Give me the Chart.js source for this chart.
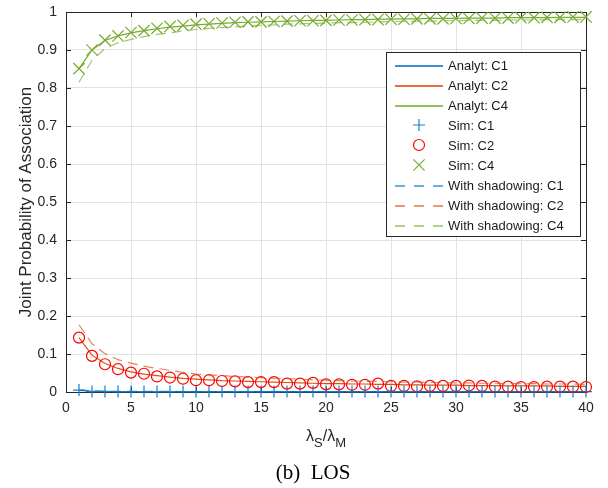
<!DOCTYPE html>
<html>
<head>
<meta charset="utf-8">
<script src="https://cdn.jsdelivr.net/npm/chart.js@4/dist/chart.umd.min.js"></script>
<style>
  html, body { margin: 0; padding: 0; background: #fff; }
  #wrap { width: 608px; height: 488px; }
</style>
</head>
<body>
<div id="wrap"><canvas id="chartCanvas" width="608" height="488"></canvas></div>
<script>
// lambda_S / lambda_M ratio
const ratios = [1,2,3,4,5,6,7,8,9,10,11,12,13,14,15,16,17,18,19,20,
                21,22,23,24,25,26,27,28,29,30,31,32,33,34,35,36,37,38,39,40];

const analytC1 = [0.004,0.002,0.002,0.001,0.001,0.001,0.001,0.001,0.001,0.001,
                  0.001,0.001,0.001,0.001,0.001,0.001,0.001,0.001,0.001,0.001,
                  0.001,0.001,0.001,0.001,0.001,0.001,0.001,0.001,0.001,0.001,
                  0.001,0.001,0.001,0.001,0.001,0.001,0.001,0.001,0.001,0.001];
const analytC2 = [0.143,0.097,0.075,0.062,0.053,0.047,0.043,0.039,0.036,0.034,
                  0.032,0.030,0.029,0.028,0.027,0.026,0.025,0.024,0.023,0.022,
                  0.022,0.021,0.021,0.020,0.020,0.019,0.019,0.018,0.018,0.018,
                  0.017,0.017,0.017,0.016,0.016,0.016,0.016,0.015,0.015,0.015];
const analytC4 = [0.851,0.900,0.925,0.937,0.945,0.951,0.956,0.960,0.963,0.966,
                  0.968,0.970,0.972,0.973,0.974,0.975,0.976,0.977,0.978,0.978,
                  0.979,0.980,0.980,0.981,0.981,0.982,0.982,0.983,0.983,0.983,
                  0.984,0.984,0.984,0.985,0.985,0.985,0.985,0.986,0.986,0.986];

const simC1 = [0.005,0.001,0.001,0.001,0.001,0.001,0.001,0.001,0.001,0.001,
               0.001,0.001,0.001,0.001,0.001,0.001,0.001,0.001,0.001,0.001,
               0.001,0.001,0.001,0.001,0.001,0.001,0.001,0.001,0.001,0.001,
               0.001,0.001,0.001,0.001,0.001,0.001,0.001,0.001,0.001,0.001];
const simC2 = [0.143,0.095,0.073,0.060,0.051,0.048,0.041,0.038,0.035,0.031,
               0.031,0.029,0.028,0.026,0.026,0.026,0.022,0.022,0.024,0.020,
               0.020,0.019,0.019,0.022,0.016,0.016,0.015,0.016,0.016,0.016,
               0.017,0.016,0.014,0.014,0.013,0.013,0.014,0.014,0.014,0.013];
const simC4 = [0.851,0.900,0.926,0.937,0.946,0.951,0.957,0.962,0.965,0.968,
               0.969,0.971,0.973,0.974,0.974,0.975,0.976,0.977,0.977,0.978,
               0.979,0.979,0.980,0.980,0.981,0.981,0.982,0.982,0.982,0.983,
               0.983,0.984,0.984,0.984,0.985,0.985,0.986,0.986,0.987,0.987];

const shadC1 = [0.005,0.003,0.002,0.002,0.002,0.002,0.002,0.002,0.001,0.001,
                0.001,0.001,0.001,0.001,0.001,0.001,0.001,0.001,0.001,0.001,
                0.001,0.001,0.001,0.001,0.001,0.001,0.001,0.001,0.001,0.001,
                0.001,0.001,0.001,0.001,0.001,0.001,0.001,0.001,0.001,0.001];
const shadC2 = [0.177,0.127,0.101,0.085,0.076,0.068,0.062,0.057,0.052,0.047,
                0.045,0.043,0.041,0.039,0.038,0.036,0.035,0.034,0.032,0.031,
                0.030,0.029,0.028,0.028,0.027,0.026,0.026,0.025,0.025,0.024,
                0.024,0.023,0.023,0.022,0.022,0.022,0.021,0.021,0.021,0.020];
const shadC4 = [0.815,0.873,0.904,0.919,0.928,0.935,0.941,0.945,0.950,0.954,
                0.957,0.959,0.961,0.963,0.965,0.966,0.968,0.969,0.970,0.971,
                0.972,0.972,0.973,0.974,0.975,0.975,0.976,0.976,0.977,0.977,
                0.978,0.978,0.978,0.979,0.979,0.979,0.980,0.980,0.980,0.981];

const xTicks = [0,5,10,15,20,25,30,35,40];
const yTicks = [0,0.1,0.2,0.3,0.4,0.5,0.6,0.7,0.8,0.9,1];

const seriesLabels = ["Analyt: C1","Analyt: C2","Analyt: C4","Sim: C1","Sim: C2","Sim: C4",
                      "With shadowing: C1","With shadowing: C2","With shadowing: C4"];

const FONT = "'Liberation Sans', Arial, Helvetica, sans-serif";
const pts = arr => arr.map((v, i) => ({ x: ratios[i], y: v }));

// legend swatches, filled in as the datasets are built
const legendSpec = [];

function lineSet(label, data, color, dash, swatch) {
  legendSpec.push({ label, line: true, color: swatch, dashed: !!dash });
  return {
    label, data: pts(data), borderColor: color, backgroundColor: color,
    borderWidth: 1.2, borderDash: dash || [], pointRadius: 0, tension: 0,
    showLine: true, clip: false
  };
}
function markSet(label, data, color, style, r) {
  legendSpec.push({ label, line: false, color, style, r });
  return {
    label, data: pts(data), borderColor: color, backgroundColor: "rgba(0,0,0,0)",
    showLine: false, pointStyle: style, pointRadius: r, pointBorderWidth: 1.2,
    pointBorderColor: color, pointBackgroundColor: "rgba(0,0,0,0)", clip: false
  };
}

const datasets = [
  lineSet(seriesLabels[0], analytC1, "#0072BD", null, "#3d90d3"),
  lineSet(seriesLabels[1], analytC2, "#D95319", null, "#e4703d"),
  lineSet(seriesLabels[2], analytC4, "#77AC30", null, "#93c25a"),
  markSet(seriesLabels[3], simC1, "#1a7fce", "cross", 6),
  markSet(seriesLabels[4], simC2, "#FF0000", "circle", 5.5),
  markSet(seriesLabels[5], simC4, "#77AC30", "crossRot", 8),
  lineSet(seriesLabels[6], shadC1, "rgba(0,114,189,0.7)", [10, 6], "#6aaee0"),
  lineSet(seriesLabels[7], shadC2, "rgba(217,83,25,0.7)", [10, 6], "#eb9a78"),
  lineSet(seriesLabels[8], shadC4, "rgba(119,172,48,0.7)", [10, 6], "#aed28a")
];
// later series painted on top, as in the original figure
datasets.forEach((d, i) => { d.order = datasets.length - i; });

// axes box with inward ticks, MATLAB style
const framePlugin = {
  id: "frame",
  beforeDatasetsDraw(chart) {
    const { ctx, chartArea: a, scales } = chart;
    ctx.save();
    ctx.strokeStyle = "#262626";
    ctx.lineWidth = 1;
    ctx.beginPath();
    ctx.rect(Math.round(a.left) + 0.5, Math.round(a.top) + 0.5,
             Math.round(a.right - a.left), Math.round(a.bottom - a.top));
    xTicks.forEach(v => {
      const x = Math.round(scales.x.getPixelForValue(v)) + 0.5;
      ctx.moveTo(x, a.bottom); ctx.lineTo(x, a.bottom - 5);
      ctx.moveTo(x, a.top); ctx.lineTo(x, a.top + 5);
    });
    yTicks.forEach(v => {
      const y = Math.round(scales.y.getPixelForValue(v)) + 0.5;
      ctx.moveTo(a.left, y); ctx.lineTo(a.left + 5, y);
      ctx.moveTo(a.right, y); ctx.lineTo(a.right - 5, y);
    });
    ctx.stroke();
    ctx.restore();
  },
  afterDraw(chart) {
    const { ctx, chartArea: a } = chart;
    ctx.save();
    ctx.fillStyle = "#262626";
    // y title
    ctx.font = "17px " + FONT;
    ctx.textAlign = "center";
    ctx.textBaseline = "middle";
    ctx.translate(26, (a.top + a.bottom) / 2);
    ctx.rotate(-Math.PI / 2);
    ctx.fillText("Joint Probability of Association", 0, 0);
    ctx.setTransform(1, 0, 0, 1, 0, 0);
    // x title: lambda_S / lambda_M
    const cx = (a.left + a.right) / 2, by = 441;
    const big = "16px " + FONT, small = "13px " + FONT;
    const parts = [["\u03bb", big, 0], ["S", small, 6], ["/\u03bb", big, 0], ["M", small, 6]];
    let w = 0;
    parts.forEach(p => { ctx.font = p[1]; w += ctx.measureText(p[0]).width; });
    let x = cx - w / 2;
    ctx.textAlign = "left";
    ctx.textBaseline = "alphabetic";
    parts.forEach(p => { ctx.font = p[1]; ctx.fillText(p[0], x, by + p[2]); x += ctx.measureText(p[0]).width; });
    // caption
    ctx.fillStyle = "#000";
    ctx.font = "21px 'Liberation Serif', 'Times New Roman', serif";
    ctx.textAlign = "center";
    ctx.fillText("(b)  LOS", 313, 479);
    ctx.restore();
  }
};

// legend box inside the axes
const legendPlugin = {
  id: "boxLegend",
  afterDraw(chart) {
    const { ctx } = chart;
    const L = 386, T = 52, R = 580, B = 236;
    ctx.save();
    ctx.fillStyle = "#fff";
    ctx.fillRect(L, T, R - L, B - T);
    ctx.strokeStyle = "#262626";
    ctx.lineWidth = 1;
    ctx.strokeRect(L + 0.5, T + 0.5, R - L, B - T);
    ctx.font = "13px " + FONT;
    ctx.textBaseline = "middle";
    ctx.textAlign = "left";
    legendSpec.forEach((s, i) => {
      const y = 65 + i * 20;
      if (s.line) {
        ctx.fillStyle = s.color;
        if (s.dashed) {
          [[395, 10], [414, 10], [433, 10]].forEach(seg => ctx.fillRect(seg[0], y, seg[1], 2));
        } else {
          ctx.fillRect(395, y, 48, 2);
        }
      } else {
        ctx.save();
        ctx.strokeStyle = s.color;
        ctx.fillStyle = "rgba(0,0,0,0)";
        ctx.lineWidth = 1.2;
        Chart.helpers.drawPoint(ctx, { pointStyle: s.style, radius: s.r, rotation: 0, borderWidth: 1.2 }, 419, y);
        ctx.restore();
      }
      ctx.fillStyle = "#1a1a1a";
      ctx.fillText(s.label, 448, y + 1);
    });
    ctx.restore();
  }
};

const canvas = document.getElementById("chartCanvas");
new Chart(canvas.getContext("2d"), {
  type: "line",
  data: { datasets },
  options: {
    responsive: false,
    animation: false,
    layout: { padding: { left: 0, right: 22, top: 12, bottom: 0 } },
    plugins: { legend: { display: false }, tooltip: { enabled: false } },
    scales: {
      x: {
        type: "linear", min: 0, max: 40,
        afterFit: s => { s.height = 96; s.paddingLeft = 0; s.paddingRight = 0; },
        afterBuildTicks: s => { s.ticks = xTicks.map(v => ({ value: v })); },
        grid: { color: "#e2e2e2", drawTicks: false },
        border: { display: false },
        ticks: { color: "#262626", font: { family: FONT, size: 14 }, padding: 8, maxRotation: 0 }
      },
      y: {
        type: "linear", min: 0, max: 1,
        afterFit: s => { s.width = 66; s.paddingTop = 0; s.paddingBottom = 0; },
        afterBuildTicks: s => { s.ticks = yTicks.map(v => ({ value: v })); },
        grid: { color: "#e2e2e2", drawTicks: false },
        border: { display: false },
        ticks: { color: "#262626", font: { family: FONT, size: 14 }, padding: 9,
                 callback: v => String(+v.toFixed(1)) }
      }
    }
  },
  plugins: [framePlugin, legendPlugin]
});
</script>
</body>
</html>
